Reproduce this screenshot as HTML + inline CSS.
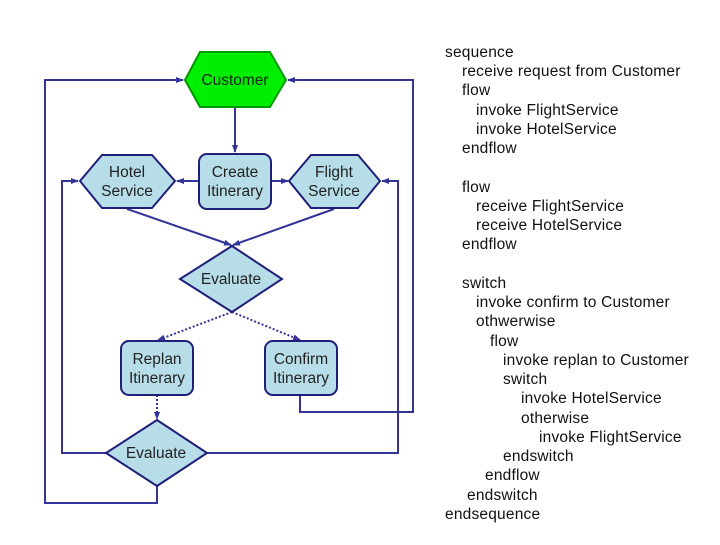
<!DOCTYPE html>
<html><head><style>
body{margin:0;background:#fff;}
svg text{font-family:"Liberation Sans",sans-serif;}
</style></head><body>
<svg width="720" height="540" viewBox="0 0 720 540" xmlns="http://www.w3.org/2000/svg">
<defs>
<marker id="a" markerWidth="8" markerHeight="8" refX="7" refY="4" orient="auto" markerUnits="userSpaceOnUse">
<path d="M0,1 L8,4 L0,7 Z" fill="#333399"/></marker>
</defs>
<g fill="none" stroke="#333399" stroke-width="2">
<line x1="235" y1="107" x2="235" y2="152" marker-end="url(#a)"/>
<line x1="199" y1="181" x2="177" y2="181" marker-end="url(#a)"/>
<line x1="271" y1="181" x2="288" y2="181" marker-end="url(#a)"/>
<line x1="127" y1="209" x2="231" y2="245" marker-end="url(#a)"/>
<line x1="334" y1="209" x2="233" y2="245" marker-end="url(#a)"/>
<g stroke-dasharray="2,2">
<line x1="232" y1="312" x2="158" y2="340" marker-end="url(#a)"/>
<line x1="232" y1="312" x2="300" y2="340" marker-end="url(#a)"/>
<line x1="157" y1="395" x2="157" y2="419" marker-end="url(#a)"/>
</g>
<polyline points="106,453 62,453 62,181 78,181" marker-end="url(#a)"/>
<polyline points="207,453 398,453 398,181 382,181" marker-end="url(#a)"/>
<polyline points="157,486 157,503 45,503 45,80 183,80" marker-end="url(#a)"/>
<polyline points="300,395 300,412 413,412 413,80 288,80" marker-end="url(#a)"/>
</g>
<polygon points="185,80 200,52 270,52 286,80 270,107 200,107" fill="#00ee00" stroke="#009900" stroke-width="2"/>
<g fill="#b7dde8" stroke="#1f1f7a" stroke-width="2">
<polygon points="80,181 102,155 152,155 175,181 152,208 102,208"/>
<rect x="199" y="154" width="72" height="55" rx="8"/>
<polygon points="289,181 311,155 358,155 380,181 358,208 311,208"/>
<polygon points="232,246 282,279 232,312 180,279"/>
<rect x="121" y="341" width="72" height="54" rx="8"/>
<rect x="265" y="341" width="72" height="54" rx="8"/>
<polygon points="157,420 207,453 157,486 106,453"/>
</g>
<g font-size="15.5" fill="#222" text-anchor="middle">
<text x="235" y="85">Customer</text>
<text x="127" y="177">Hotel</text><text x="127" y="196">Service</text>
<text x="235" y="177">Create</text><text x="235" y="196">Itinerary</text>
<text x="334" y="177">Flight</text><text x="334" y="196">Service</text>
<text x="231" y="284">Evaluate</text>
<text x="157" y="364">Replan</text><text x="157" y="383">Itinerary</text>
<text x="301" y="364">Confirm</text><text x="301" y="383">Itinerary</text>
<text x="156" y="458">Evaluate</text>
</g>
<g font-size="15.5" fill="#111" letter-spacing="0.2">
<text x="445" y="57">sequence</text>
<text x="462" y="76">receive request from Customer</text>
<text x="462" y="95">flow</text>
<text x="476" y="115">invoke FlightService</text>
<text x="476" y="134">invoke HotelService</text>
<text x="462" y="153">endflow</text>
<text x="462" y="192">flow</text>
<text x="476" y="211">receive FlightService</text>
<text x="476" y="230">receive HotelService</text>
<text x="462" y="249">endflow</text>
<text x="462" y="288">switch</text>
<text x="476" y="307">invoke confirm to Customer</text>
<text x="476" y="326">othwerwise</text>
<text x="490" y="346">flow</text>
<text x="503" y="365">invoke replan to Customer</text>
<text x="503" y="384">switch</text>
<text x="521" y="403">invoke HotelService</text>
<text x="521" y="423">otherwise</text>
<text x="539" y="442">invoke FlightService</text>
<text x="503" y="461">endswitch</text>
<text x="485" y="480">endflow</text>
<text x="467" y="500">endswitch</text>
<text x="445" y="519">endsequence</text>
</g>
</svg>
</body></html>
